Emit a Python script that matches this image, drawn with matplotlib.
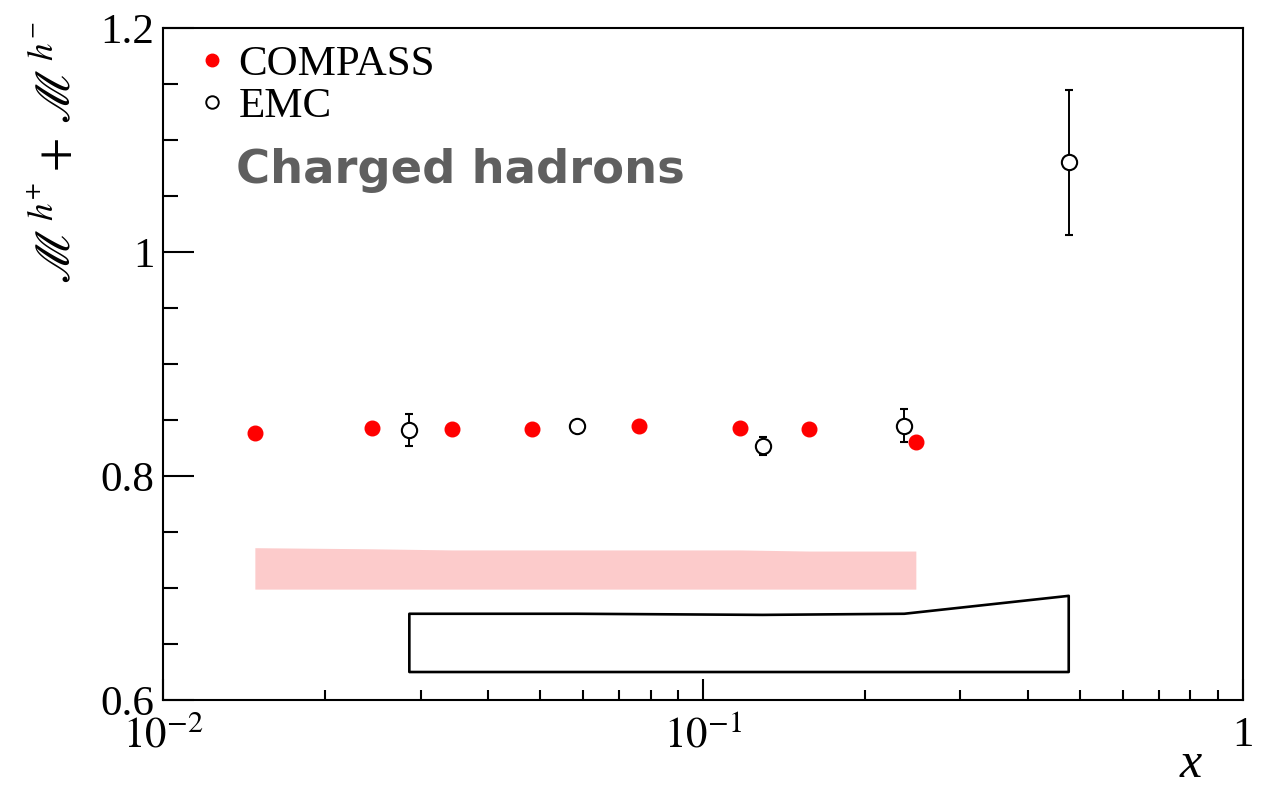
import matplotlib
matplotlib.use("Agg")
import matplotlib.pyplot as plt
from matplotlib.lines import Line2D
from matplotlib.ticker import FixedLocator, NullFormatter, MultipleLocator, LogLocator

plt.rcParams['font.family'] = 'Liberation Serif'
plt.rcParams['mathtext.fontset'] = 'stix'

# COMPASS points (red, filled)
compass_x = [0.0148, 0.0244, 0.0343, 0.0482, 0.0761, 0.117, 0.157, 0.248]
compass_y = [0.838, 0.843, 0.842, 0.842, 0.845, 0.843, 0.842, 0.830]
compass_err = [0.002, 0.002, 0.002, 0.002, 0.002, 0.003, 0.004, 0.005]
compass_sys_top = [0.736, 0.735, 0.734, 0.734, 0.734, 0.734, 0.733, 0.733]
compass_sys_bot = [0.699, 0.699, 0.699, 0.699, 0.699, 0.699, 0.699, 0.699]

# EMC points (open circles)
emc_x = [0.0286, 0.0584, 0.129, 0.236, 0.476]
emc_y = [0.841, 0.845, 0.827, 0.845, 1.080]
emc_err = [0.014, 0.004, 0.008, 0.015, 0.065]
emc_sys_top = [0.677, 0.677, 0.676, 0.677, 0.693]
emc_sys_bot = [0.625, 0.625, 0.625, 0.625, 0.625]

fig = plt.figure(figsize=(12.63, 7.86), dpi=100)
ax = fig.add_axes([0.129, 0.1094, 0.855, 0.855])

ax.fill_between(compass_x, compass_sys_bot, compass_sys_top, color='#fccbcb', lw=0)
ax.fill_between(emc_x, emc_sys_bot, emc_sys_top, facecolor='none', edgecolor='black', lw=1.9)

ax.errorbar(compass_x, compass_y, yerr=compass_err, fmt='o', color='red', ms=10.5,
            elinewidth=1.4, capsize=0, zorder=4)
ax.errorbar(emc_x, emc_y, yerr=emc_err, fmt='o', mfc='white', mec='black', color='black',
            ms=11, mew=1.5, elinewidth=1.4, capsize=3, capthick=1.4, zorder=5)

ax.set_xscale('log')
ax.set_xlim(0.01, 1)
ax.set_ylim(0.6, 1.2)

ax.xaxis.set_major_locator(FixedLocator([0.01, 0.1, 1]))
ax.set_xticklabels([r'$10^{-2}$', r'$10^{-1}$', '1'])
ax.xaxis.set_minor_locator(LogLocator(base=10, subs=range(2, 10)))
ax.xaxis.set_minor_formatter(NullFormatter())
ax.yaxis.set_major_locator(FixedLocator([0.6, 0.8, 1.0, 1.2]))
ax.set_yticklabels(['0.6', '0.8', '1', '1.2'])
ax.yaxis.set_minor_locator(MultipleLocator(0.05))

ax.tick_params(axis='both', which='both', direction='in', top=False, right=False, width=1.5)
ax.tick_params(axis='y', which='major', length=22, labelsize=31, pad=6)
ax.tick_params(axis='y', which='minor', length=11)
ax.tick_params(axis='x', which='major', length=15, labelsize=31, pad=12)
ax.tick_params(axis='x', which='minor', length=7.5)
for s in ax.spines.values():
    s.set_linewidth(1.5)

ax.text(0.962, -0.115, 'x', transform=ax.transAxes, ha='right', va='baseline',
        fontsize=36, style='italic')
fig.text(0.045, 0.972, r'$\mathscr{M}^{\,h^{+}}+\,\mathscr{M}^{\,h^{-}}$', rotation=90,
         ha='center', va='top', fontsize=36)

ax.text(0.0676, 0.769, 'Charged hadrons', transform=ax.transAxes, fontsize=33.5,
        family='DejaVu Sans', weight='bold', color='#5f5f5f', va='baseline')

handles = [Line2D([], [], ls='none', marker='o', color='red', ms=9),
           Line2D([], [], ls='none', marker='o', mfc='white', mec='black', mew=1.4, ms=9)]
ax.legend(handles, ['COMPASS', 'EMC'], loc='upper left', bbox_to_anchor=(0.01, 1.0),
          frameon=False, fontsize=31, handletextpad=0.1, labelspacing=0.05,
          borderaxespad=0, handlelength=1.0)

fig.savefig('out.png', dpi=100)
